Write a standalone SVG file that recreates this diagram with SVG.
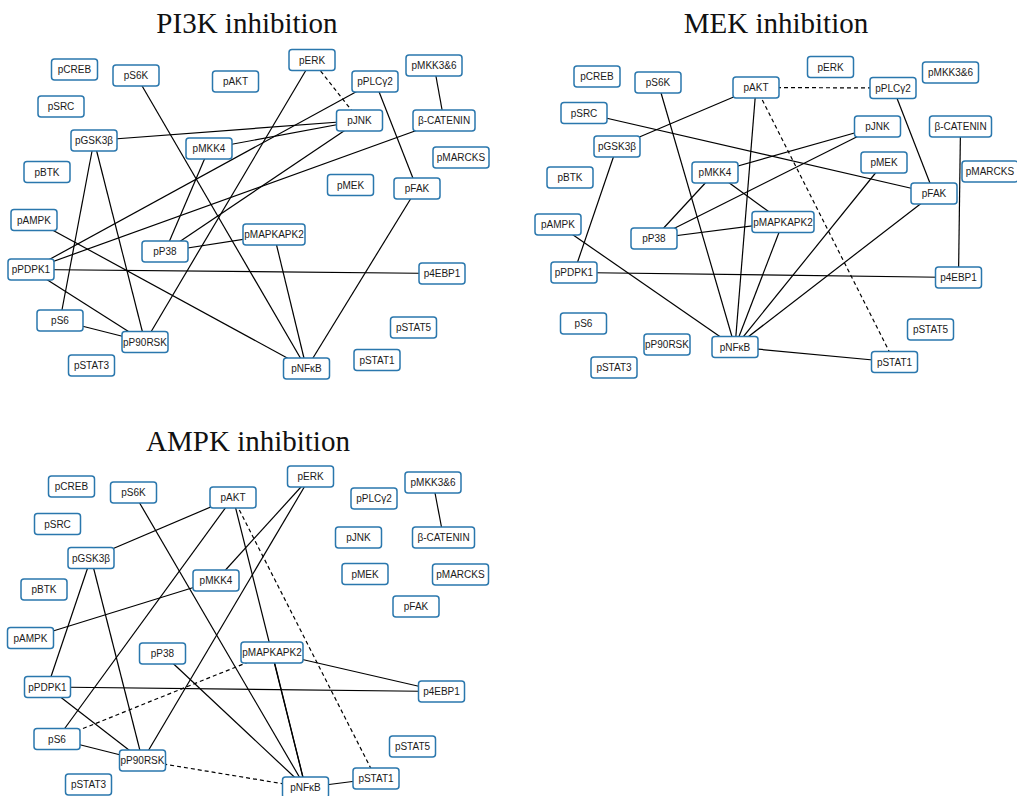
<svg xmlns="http://www.w3.org/2000/svg" width="1017" height="796" viewBox="0 0 1017 796">
<style>
.t{font-family:"Liberation Serif","Times New Roman",serif;font-size:29px;fill:#111;text-anchor:middle}
.n rect{fill:#fff;stroke:#2a77ad;stroke-width:1.5}
.n text{font-family:"Liberation Sans",Arial,sans-serif;font-size:10px;fill:#1a1a1a;text-anchor:middle}
.e line{stroke:#000;stroke-width:1.2}
.e line.d{stroke-dasharray:4,3}
</style>
<rect width="1017" height="796" fill="#fff"/>
<text class="t" x="247" y="33">PI3K inhibition</text>
<text class="t" x="776" y="33">MEK inhibition</text>
<text class="t" x="248" y="451">AMPK inhibition</text>

<g id="edges" class="e">
<!-- panel 1 -->
<line x1="94" y1="140.5" x2="359.5" y2="120.5"/>
<line x1="94" y1="140.5" x2="60" y2="320.5"/>
<line x1="94" y1="140.5" x2="145" y2="342"/>
<line x1="136" y1="75.5" x2="306.5" y2="368.5"/>
<line class="d" x1="312" y1="60" x2="359.5" y2="120.5"/>
<line x1="312" y1="60" x2="145" y2="342"/>
<line x1="375" y1="81.5" x2="31" y2="269.5"/>
<line x1="375" y1="81.5" x2="417" y2="188.5"/>
<line x1="434" y1="65.5" x2="444" y2="120.5"/>
<line x1="444" y1="120.5" x2="31" y2="269.5"/>
<line x1="359.5" y1="120.5" x2="209" y2="148.5"/>
<line x1="359.5" y1="120.5" x2="165" y2="251.5"/>
<line x1="209" y1="148.5" x2="165" y2="251.5"/>
<line x1="165" y1="251.5" x2="274" y2="234.5"/>
<line x1="274" y1="234.5" x2="306.5" y2="368.5"/>
<line x1="34" y1="220" x2="306.5" y2="368.5"/>
<line x1="417" y1="188.5" x2="306.5" y2="368.5"/>
<line x1="31" y1="269.5" x2="442" y2="273.5"/>
<line x1="31" y1="269.5" x2="145" y2="342"/>
<line x1="60" y1="320.5" x2="145" y2="342"/>
<!-- panel 2 -->
<line class="d" x1="756" y1="87.5" x2="893" y2="88"/>
<line class="d" x1="756" y1="87.5" x2="894.5" y2="362"/>
<line x1="756" y1="87.5" x2="617" y2="146.5"/>
<line x1="756" y1="87.5" x2="735" y2="347"/>
<line x1="658" y1="82.5" x2="735" y2="347"/>
<line x1="584" y1="113" x2="934" y2="193.5"/>
<line x1="617" y1="146.5" x2="574" y2="272.5"/>
<line x1="715" y1="172.5" x2="877.5" y2="126.5"/>
<line x1="715" y1="172.5" x2="654" y2="238.5"/>
<line x1="715" y1="172.5" x2="783" y2="222"/>
<line x1="877.5" y1="126.5" x2="654" y2="238.5"/>
<line x1="884" y1="162.5" x2="735" y2="347"/>
<line x1="934" y1="193.5" x2="735" y2="347"/>
<line x1="893" y1="88" x2="934" y2="193.5"/>
<line x1="960.5" y1="126.5" x2="958.5" y2="277.5"/>
<line x1="574" y1="272.5" x2="958.5" y2="277.5"/>
<line x1="654" y1="238.5" x2="783" y2="222"/>
<line x1="783" y1="222" x2="735" y2="347"/>
<line x1="558" y1="224.5" x2="735" y2="347"/>
<line x1="735" y1="347" x2="894.5" y2="362"/>
<!-- panel 3 -->
<line x1="233" y1="497.5" x2="91" y2="558"/>
<line x1="233" y1="497.5" x2="57" y2="739"/>
<line x1="233" y1="497.5" x2="305.5" y2="787.5"/>
<line class="d" x1="233" y1="497.5" x2="376" y2="778.5"/>
<line x1="133.5" y1="492.5" x2="305.5" y2="787.5"/>
<line x1="310.5" y1="476.5" x2="216" y2="580.5"/>
<line x1="310.5" y1="476.5" x2="142.5" y2="760.5"/>
<line x1="433" y1="482.5" x2="443.5" y2="537.5"/>
<line x1="91" y1="558" x2="47.5" y2="687"/>
<line x1="91" y1="558" x2="142.5" y2="760.5"/>
<line x1="216" y1="580.5" x2="30.5" y2="638"/>
<line x1="47.5" y1="687" x2="441.5" y2="691.5"/>
<line x1="47.5" y1="687" x2="142.5" y2="760.5"/>
<line x1="57" y1="739" x2="142.5" y2="760.5"/>
<line class="d" x1="57" y1="739" x2="272" y2="652.5"/>
<line class="d" x1="142.5" y1="760.5" x2="305.5" y2="787.5"/>
<line x1="162.5" y1="653.5" x2="305.5" y2="787.5"/>
<line x1="272" y1="652.5" x2="441.5" y2="691.5"/>
<line x1="272" y1="652.5" x2="305.5" y2="787.5"/>
<line x1="305.5" y1="787.5" x2="376" y2="778.5"/>
</g>

<!-- panel 1 nodes -->
<g id="p1-pCREB" class="n"><rect x="51.5" y="59" width="46" height="21" rx="3"/><text x="74.5" y="73">pCREB</text></g>
<g id="p1-pS6K" class="n"><rect x="113" y="65" width="46" height="21" rx="3"/><text x="136" y="79">pS6K</text></g>
<g id="p1-pAKT" class="n"><rect x="212.5" y="71" width="46" height="21" rx="3"/><text x="235.5" y="85">pAKT</text></g>
<g id="p1-pSRC" class="n"><rect x="38" y="96" width="46" height="21" rx="3"/><text x="61" y="110">pSRC</text></g>
<g id="p1-pGSK3b" class="n"><rect x="71" y="130" width="46" height="21" rx="3"/><text x="94" y="144">pGSK3β</text></g>
<g id="p1-pMKK4" class="n"><rect x="186" y="138" width="46" height="21" rx="3"/><text x="209" y="152">pMKK4</text></g>
<g id="p1-pBTK" class="n"><rect x="24" y="161.5" width="46" height="21" rx="3"/><text x="47" y="175.5">pBTK</text></g>
<g id="p1-pAMPK" class="n"><rect x="11" y="209.5" width="46" height="21" rx="3"/><text x="34" y="223.5">pAMPK</text></g>
<g id="p1-pERK" class="n"><rect x="289" y="49.5" width="46" height="21" rx="3"/><text x="312" y="63.5">pERK</text></g>
<g id="p1-pPLCg2" class="n"><rect x="352" y="71" width="46" height="21" rx="3"/><text x="375" y="85">pPLCγ2</text></g>
<g id="p1-pMKK36" class="n"><rect x="406" y="55" width="56" height="21" rx="3"/><text x="434" y="69">pMKK3&amp;6</text></g>
<g id="p1-pJNK" class="n"><rect x="336.5" y="110" width="46" height="21" rx="3"/><text x="359.5" y="124">pJNK</text></g>
<g id="p1-bCATENIN" class="n"><rect x="413" y="110" width="62" height="21" rx="3"/><text x="444" y="124">β-CATENIN</text></g>
<g id="p1-pMARCKS" class="n"><rect x="433" y="147" width="56" height="21" rx="3"/><text x="461" y="161">pMARCKS</text></g>
<g id="p1-pMEK" class="n"><rect x="327.5" y="174.5" width="46" height="21" rx="3"/><text x="350.5" y="188.5">pMEK</text></g>
<g id="p1-pFAK" class="n"><rect x="394" y="178" width="46" height="21" rx="3"/><text x="417" y="192">pFAK</text></g>
<g id="p1-pP38" class="n"><rect x="142" y="241" width="46" height="21" rx="3"/><text x="165" y="255">pP38</text></g>
<g id="p1-pPDPK1" class="n"><rect x="8" y="259" width="46" height="21" rx="3"/><text x="31" y="273">pPDPK1</text></g>
<g id="p1-pS6" class="n"><rect x="37" y="310" width="46" height="21" rx="3"/><text x="60" y="324">pS6</text></g>
<g id="p1-pP90RSK" class="n"><rect x="122" y="331.5" width="46" height="21" rx="3"/><text x="145" y="345.5">pP90RSK</text></g>
<g id="p1-pSTAT3" class="n"><rect x="68.5" y="355" width="46" height="21" rx="3"/><text x="91.5" y="369">pSTAT3</text></g>
<g id="p1-pMAPKAPK2" class="n"><rect x="243" y="224" width="62" height="21" rx="3"/><text x="274" y="238">pMAPKAPK2</text></g>
<g id="p1-p4EBP1" class="n"><rect x="419" y="263" width="46" height="21" rx="3"/><text x="442" y="277">p4EBP1</text></g>
<g id="p1-pSTAT5" class="n"><rect x="390.5" y="317" width="46" height="21" rx="3"/><text x="413.5" y="331">pSTAT5</text></g>
<g id="p1-pSTAT1" class="n"><rect x="354" y="349.5" width="46" height="21" rx="3"/><text x="377" y="363.5">pSTAT1</text></g>
<g id="p1-pNFkB" class="n"><rect x="283.5" y="358" width="46" height="21" rx="3"/><text x="306.5" y="372">pNFκB</text></g>

<!-- panel 2 nodes -->
<g id="p2-pCREB" class="n"><rect x="574" y="66" width="46" height="21" rx="3"/><text x="597" y="80">pCREB</text></g>
<g id="p2-pS6K" class="n"><rect x="635" y="72" width="46" height="21" rx="3"/><text x="658" y="86">pS6K</text></g>
<g id="p2-pAKT" class="n"><rect x="733" y="77" width="46" height="21" rx="3"/><text x="756" y="91">pAKT</text></g>
<g id="p2-pSRC" class="n"><rect x="561" y="102.5" width="46" height="21" rx="3"/><text x="584" y="116.5">pSRC</text></g>
<g id="p2-pGSK3b" class="n"><rect x="594" y="136" width="46" height="21" rx="3"/><text x="617" y="150">pGSK3β</text></g>
<g id="p2-pMKK4" class="n"><rect x="692" y="162" width="46" height="21" rx="3"/><text x="715" y="176">pMKK4</text></g>
<g id="p2-pBTK" class="n"><rect x="547" y="167" width="46" height="21" rx="3"/><text x="570" y="181">pBTK</text></g>
<g id="p2-pERK" class="n"><rect x="807.5" y="56.5" width="46" height="21" rx="3"/><text x="830.5" y="70.5">pERK</text></g>
<g id="p2-pMKK36" class="n"><rect x="922.5" y="62" width="56" height="21" rx="3"/><text x="950.5" y="76">pMKK3&amp;6</text></g>
<g id="p2-pPLCg2" class="n"><rect x="870" y="77.5" width="46" height="21" rx="3"/><text x="893" y="91.5">pPLCγ2</text></g>
<g id="p2-pJNK" class="n"><rect x="854.5" y="116" width="46" height="21" rx="3"/><text x="877.5" y="130">pJNK</text></g>
<g id="p2-bCATENIN" class="n"><rect x="929.5" y="116" width="62" height="21" rx="3"/><text x="960.5" y="130">β-CATENIN</text></g>
<g id="p2-pMEK" class="n"><rect x="861" y="152" width="46" height="21" rx="3"/><text x="884" y="166">pMEK</text></g>
<g id="p2-pMARCKS" class="n"><rect x="962" y="161" width="56" height="21" rx="3"/><text x="990" y="175">pMARCKS</text></g>
<g id="p2-pFAK" class="n"><rect x="911" y="183" width="46" height="21" rx="3"/><text x="934" y="197">pFAK</text></g>
<g id="p2-pAMPK" class="n"><rect x="535" y="214" width="46" height="21" rx="3"/><text x="558" y="228">pAMPK</text></g>
<g id="p2-pP38" class="n"><rect x="631" y="228" width="46" height="21" rx="3"/><text x="654" y="242">pP38</text></g>
<g id="p2-pMAPKAPK2" class="n"><rect x="752" y="211.5" width="62" height="21" rx="3"/><text x="783" y="225.5">pMAPKAPK2</text></g>
<g id="p2-pPDPK1" class="n"><rect x="551" y="262" width="46" height="21" rx="3"/><text x="574" y="276">pPDPK1</text></g>
<g id="p2-pS6" class="n"><rect x="560.5" y="313" width="46" height="21" rx="3"/><text x="583.5" y="327">pS6</text></g>
<g id="p2-pP90RSK" class="n"><rect x="644" y="334" width="46" height="21" rx="3"/><text x="667" y="348">pP90RSK</text></g>
<g id="p2-pSTAT3" class="n"><rect x="591" y="357" width="46" height="21" rx="3"/><text x="614" y="371">pSTAT3</text></g>
<g id="p2-pNFkB" class="n"><rect x="712" y="336.5" width="46" height="21" rx="3"/><text x="735" y="350.5">pNFκB</text></g>
<g id="p2-p4EBP1" class="n"><rect x="935.5" y="267" width="46" height="21" rx="3"/><text x="958.5" y="281">p4EBP1</text></g>
<g id="p2-pSTAT5" class="n"><rect x="907.5" y="319" width="46" height="21" rx="3"/><text x="930.5" y="333">pSTAT5</text></g>
<g id="p2-pSTAT1" class="n"><rect x="871.5" y="351.5" width="46" height="21" rx="3"/><text x="894.5" y="365.5">pSTAT1</text></g>

<!-- panel 3 nodes -->
<g id="p3-pCREB" class="n"><rect x="48.5" y="476" width="46" height="21" rx="3"/><text x="71.5" y="490">pCREB</text></g>
<g id="p3-pS6K" class="n"><rect x="110.5" y="482" width="46" height="21" rx="3"/><text x="133.5" y="496">pS6K</text></g>
<g id="p3-pAKT" class="n"><rect x="210" y="487" width="46" height="21" rx="3"/><text x="233" y="501">pAKT</text></g>
<g id="p3-pSRC" class="n"><rect x="34.5" y="513.5" width="46" height="21" rx="3"/><text x="57.5" y="527.5">pSRC</text></g>
<g id="p3-pGSK3b" class="n"><rect x="68" y="547.5" width="46" height="21" rx="3"/><text x="91" y="561.5">pGSK3β</text></g>
<g id="p3-pMKK4" class="n"><rect x="193" y="570" width="46" height="21" rx="3"/><text x="216" y="584">pMKK4</text></g>
<g id="p3-pBTK" class="n"><rect x="21" y="579" width="46" height="21" rx="3"/><text x="44" y="593">pBTK</text></g>
<g id="p3-pERK" class="n"><rect x="287.5" y="466" width="46" height="21" rx="3"/><text x="310.5" y="480">pERK</text></g>
<g id="p3-pMKK36" class="n"><rect x="405" y="472" width="56" height="21" rx="3"/><text x="433" y="486">pMKK3&amp;6</text></g>
<g id="p3-pPLCg2" class="n"><rect x="351" y="488" width="46" height="21" rx="3"/><text x="374" y="502">pPLCγ2</text></g>
<g id="p3-pJNK" class="n"><rect x="335.5" y="527" width="46" height="21" rx="3"/><text x="358.5" y="541">pJNK</text></g>
<g id="p3-bCATENIN" class="n"><rect x="412.5" y="527" width="62" height="21" rx="3"/><text x="443.5" y="541">β-CATENIN</text></g>
<g id="p3-pMEK" class="n"><rect x="342" y="563.5" width="46" height="21" rx="3"/><text x="365" y="577.5">pMEK</text></g>
<g id="p3-pMARCKS" class="n"><rect x="432.5" y="564" width="56" height="21" rx="3"/><text x="460.5" y="578">pMARCKS</text></g>
<g id="p3-pFAK" class="n"><rect x="393" y="596" width="46" height="21" rx="3"/><text x="416" y="610">pFAK</text></g>
<g id="p3-pAMPK" class="n"><rect x="7.5" y="627.5" width="46" height="21" rx="3"/><text x="30.5" y="641.5">pAMPK</text></g>
<g id="p3-pP38" class="n"><rect x="139.5" y="643" width="46" height="21" rx="3"/><text x="162.5" y="657">pP38</text></g>
<g id="p3-pPDPK1" class="n"><rect x="24.5" y="676.5" width="46" height="21" rx="3"/><text x="47.5" y="690.5">pPDPK1</text></g>
<g id="p3-pS6" class="n"><rect x="34" y="728.5" width="46" height="21" rx="3"/><text x="57" y="742.5">pS6</text></g>
<g id="p3-pP90RSK" class="n"><rect x="119.5" y="750" width="46" height="21" rx="3"/><text x="142.5" y="764">pP90RSK</text></g>
<g id="p3-pSTAT3" class="n"><rect x="65.5" y="774" width="46" height="21" rx="3"/><text x="88.5" y="788">pSTAT3</text></g>
<g id="p3-pMAPKAPK2" class="n"><rect x="241" y="642" width="62" height="21" rx="3"/><text x="272" y="656">pMAPKAPK2</text></g>
<g id="p3-p4EBP1" class="n"><rect x="418.5" y="681" width="46" height="21" rx="3"/><text x="441.5" y="695">p4EBP1</text></g>
<g id="p3-pSTAT5" class="n"><rect x="389.5" y="736" width="46" height="21" rx="3"/><text x="412.5" y="750">pSTAT5</text></g>
<g id="p3-pSTAT1" class="n"><rect x="353" y="768" width="46" height="21" rx="3"/><text x="376" y="782">pSTAT1</text></g>
<g id="p3-pNFkB" class="n"><rect x="282.5" y="777" width="46" height="21" rx="3"/><text x="305.5" y="791">pNFκB</text></g>
</svg>
